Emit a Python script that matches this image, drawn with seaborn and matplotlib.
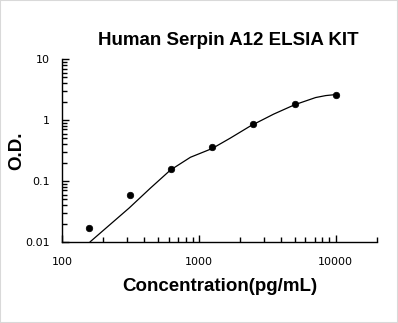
import numpy as np
import pandas as pd
import matplotlib
matplotlib.use("Agg")
import matplotlib.pyplot as plt
import seaborn as sns
from matplotlib.patches import Rectangle

# standard points
conc = [156.25, 312.5, 625, 1250, 2500, 5000, 10000]
od = [0.017, 0.058, 0.159, 0.355, 0.86, 1.8, 2.62]

# fitted curve
curve_conc = [160, 309, 441, 619, 867, 1250, 1700, 2380, 3516, 5000, 7130, 8450, 10000]
curve_od = [0.010, 0.036, 0.076, 0.151, 0.245, 0.341, 0.507, 0.80, 1.25, 1.78, 2.34, 2.52, 2.62]

points = pd.DataFrame({"Concentration": conc, "OD": od})
curve = pd.DataFrame({"Concentration": curve_conc, "OD": curve_od})

sns.set_style("ticks")
plt.rcParams["font.family"] = ["Liberation Sans", "DejaVu Sans"]
plt.rcParams["text.color"] = "black"
plt.rcParams["axes.labelcolor"] = "black"
plt.rcParams["xtick.color"] = "black"
plt.rcParams["ytick.color"] = "black"
plt.rcParams["xtick.minor.visible"] = True
plt.rcParams["ytick.minor.visible"] = True

fig = plt.figure(figsize=(3.98, 3.23), dpi=100)
ax = fig.add_axes([0.156, 0.251, 0.791, 0.566])

sns.lineplot(data=curve, x="Concentration", y="OD", color="black", linewidth=0.9, ax=ax)
sns.scatterplot(data=points, x="Concentration", y="OD", color="black", s=22,
                edgecolor="black", linewidth=0.5, ax=ax, zorder=3)

ax.set_xscale("log")
ax.set_yscale("log")
ax.set_xlim(100, 20000)
ax.set_ylim(0.01, 10)
ax.set_xticks([100, 1000, 10000])
ax.set_xticklabels(["100", "1000", "10000"])
ax.set_yticks([0.01, 0.1, 1, 10])
ax.set_yticklabels(["0.01", "0.1", "1", "10"])

# minor ticks 2..9 in each decade
x_minor = [m * 10.0 ** e for e in (2, 3, 4) for m in range(2, 10) if m * 10.0 ** e <= 20000]
y_minor = [m * 10.0 ** e for e in (-2, -1, 0) for m in range(2, 10)]
ax.set_xticks(x_minor, minor=True)
ax.set_yticks(y_minor, minor=True)
ax.set_xticklabels([], minor=True)
ax.set_yticklabels([], minor=True)

for lab in ax.get_xticklabels() + ax.get_yticklabels():
    lab.set_fontfamily("DejaVu Sans")
    lab.set_fontsize(8)
ax.tick_params(axis="x", which="major", direction="in", length=5, width=1, pad=11,
               bottom=True)
ax.tick_params(axis="y", which="major", direction="in", length=5, width=1, pad=9,
               left=True)
ax.tick_params(axis="both", which="minor", direction="in", length=3.5, width=1,
               bottom=True, left=True, color="black")
sns.despine(ax=ax)
for s in ["left", "bottom"]:
    ax.spines[s].set_color("black")
    ax.spines[s].set_linewidth(1)

ax.set_xlabel("Concentration(pg/mL)", fontsize=13.5, fontweight="bold", labelpad=8)
ax.set_ylabel("O.D.", fontsize=13.5, fontweight="bold", labelpad=0)
fig.text(0.573, 0.876, "Human Serpin A12 ELSIA KIT", ha="center", va="center",
         fontsize=13.5, fontweight="bold")

fig.patches.append(Rectangle((0, 0), 1, 1, transform=fig.transFigure, fill=False,
                             edgecolor="#d9d9d9", linewidth=1.5))

plt.savefig("out.png", dpi=100)
